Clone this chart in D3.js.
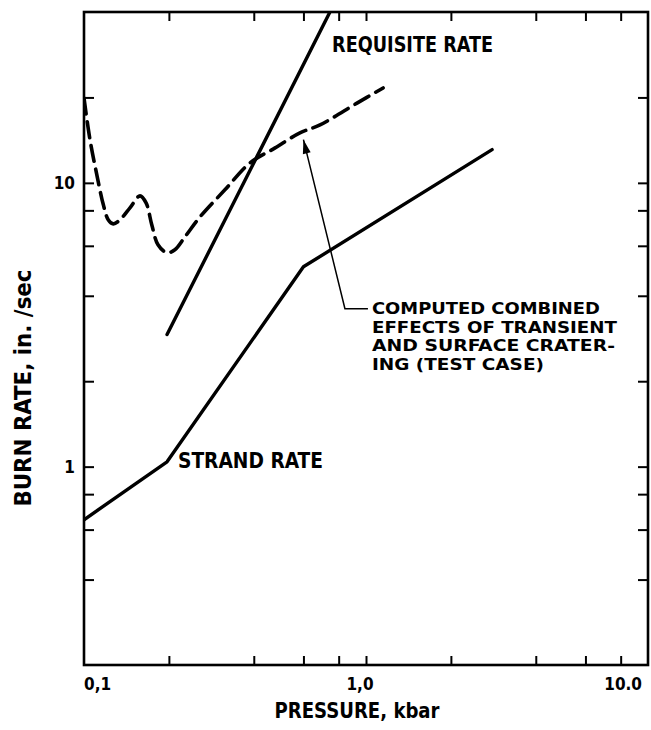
<!DOCTYPE html>
<html><head><meta charset="utf-8">
<script src="https://cdn.jsdelivr.net/npm/d3@7/dist/d3.min.js"></script>
<style>
body{margin:0;background:#fff}
text{font-family:"DejaVu Sans Condensed","DejaVu Sans","Liberation Sans Narrow",sans-serif;font-weight:bold;font-stretch:condensed;fill:#000}
</style>
</head><body>
<svg id="chart" width="651" height="730"></svg>
<script>
// ---- data ----
const xTicks = [0.2, 0.4, 0.6, 0.8, 1, 2, 4, 6, 8];
const yTicks = [0.4, 0.6, 0.8, 1, 2, 4, 6, 8, 10, 20];
const xTickValues = [0.1, 1, 10];
const xTickText = ["0,1", "1,0", "10.0"];
const yTickValues = [1, 10];
const yTickText = ["1", "10"];

const strandP = [0.1, 0.197, 0.6, 2.8];
const strandR = [0.65, 1.04, 5.06, 13.1];

const requisiteP = [0.197, 0.745];
const requisiteR = [2.92, 40];

const combinedP = [0.100, 0.105, 0.111, 0.117, 0.122, 0.127, 0.134, 0.146, 0.158, 0.166, 0.174, 0.183, 0.197, 0.210, 0.228, 0.258, 0.316, 0.388, 0.476, 0.583, 0.687, 0.929, 1.15];
const combinedR = [19.9, 14.2, 10.7, 8.4, 7.4, 7.17, 7.4, 8.2, 9.0, 8.5, 7.1, 6.05, 5.67, 5.81, 6.45, 7.59, 9.45, 11.76, 13.28, 15.0, 16.0, 19.1, 21.6];

const arrowP = [1.016, 0.842, 0.6];
const arrowR = [3.6, 3.6, 14.2];

const labelRequisite = {p: 0.758, r: 29.0, text: "REQUISITE RATE"};
const labelStrand = {p: 0.2154, r: 0.99, text: "STRAND RATE"};
const labelCombined = {p: 1.05, r: 3.44, lines: ["COMPUTED COMBINED", "EFFECTS OF TRANSIENT", "AND SURFACE CRATER-", "ING (TEST CASE)"]};
const xTitle = "PRESSURE, kbar";
const yTitle = "BURN RATE, in. /sec";

// ---- layout ----
const L = 84, R = 648, T = 12, B = 665;
const svg = d3.select("#chart");
const x = d3.scaleLog().domain([0.1, 10]).range([L, R]);
const y = d3.scaleLog().domain([0.2, 40]).range([B, T]);

function fitText(sel, w) {
  sel.attr("textLength", w).attr("lengthAdjust", "spacingAndGlyphs");
}

// axes ticks (inward)
svg.append("g").attr("transform", `translate(0,${B})`)
  .call(d3.axisBottom(x).tickValues(xTicks).tickSize(-9).tickFormat(""))
  .call(g => g.select(".domain").remove());
svg.append("g").attr("transform", `translate(0,${T})`)
  .call(d3.axisTop(x).tickValues(xTicks).tickSize(-9).tickFormat(""))
  .call(g => g.select(".domain").remove());
svg.append("g").attr("transform", `translate(${L},0)`)
  .call(d3.axisLeft(y).tickValues(yTicks).tickSize(-10).tickFormat(""))
  .call(g => g.select(".domain").remove());
svg.append("g").attr("transform", `translate(${R},0)`)
  .call(d3.axisRight(y).tickValues(yTicks).tickSize(-10).tickFormat(""))
  .call(g => g.select(".domain").remove());
svg.selectAll(".tick line").attr("stroke", "#000").attr("stroke-width", 2);

// frame
svg.append("rect").attr("x", L).attr("y", T).attr("width", R - L).attr("height", B - T)
  .attr("fill", "none").attr("stroke", "#000").attr("stroke-width", 2.6);

// tick labels
const anchors = ["start", "middle", "end"];
const dxs = [0, -6, -6];
xTickValues.forEach((v, i) => {
  svg.append("text").attr("x", x(v) + dxs[i]).attr("y", B + 25)
    .attr("text-anchor", anchors[i]).style("font-size", "17px").text(xTickText[i]);
});
yTickValues.forEach((v, i) => {
  svg.append("text").attr("x", L - 9).attr("y", y(v)).attr("dy", "0.36em")
    .attr("text-anchor", "end").style("font-size", "17px").text(yTickText[i]);
});

// axis titles
svg.append("text").attr("x", 357).attr("y", 718).attr("text-anchor", "middle")
  .style("font-size", "21px").text(xTitle).call(fitText, 165);
svg.append("text").attr("transform", "translate(31,388) rotate(-90)").attr("text-anchor", "middle")
  .style("font-size", "23px").text(yTitle).call(fitText, 237);

// lines
const line = d3.line().x(d => x(d[0])).y(d => y(d[1]));
const clip = svg.append("clipPath").attr("id", "clip").append("rect")
  .attr("x", L).attr("y", T).attr("width", R - L).attr("height", B - T);
const plot = svg.append("g").attr("clip-path", "url(#clip)");

plot.append("path").datum(d3.zip(strandP, strandR)).attr("d", line)
  .attr("fill", "none").attr("stroke", "#000").attr("stroke-width", 3.4)
  .attr("stroke-linejoin", "round").attr("stroke-linecap", "round");
plot.append("path").datum(d3.zip(requisiteP, requisiteR)).attr("d", line)
  .attr("fill", "none").attr("stroke", "#000").attr("stroke-width", 3.4)
  .attr("stroke-linecap", "round");
plot.append("path").datum(d3.zip(combinedP, combinedR))
  .attr("d", line.curve(d3.curveCatmullRom.alpha(0.5)))
  .attr("fill", "none").attr("stroke", "#000").attr("stroke-width", 3.6)
  .attr("stroke-dasharray", "16,8").attr("stroke-linecap", "round");
line.curve(d3.curveLinear);

// annotation arrow
const ap = d3.zip(arrowP, arrowR);
svg.append("path").datum(ap).attr("d", line).attr("fill", "none")
  .attr("stroke", "#000").attr("stroke-width", 1.5);
{
  const tx = x(arrowP[2]), ty = y(arrowR[2]);
  const ex = x(arrowP[1]), ey = y(arrowR[1]);
  const ang = Math.atan2(ty - ey, tx - ex);
  const len = 14, hw = 4;
  const bx = tx - len * Math.cos(ang), by = ty - len * Math.sin(ang);
  const px = -Math.sin(ang) * hw, py = Math.cos(ang) * hw;
  svg.append("path").attr("d", `M${tx},${ty}L${bx + px},${by + py}L${bx - px},${by - py}Z`).attr("fill", "#000");
}

// labels
svg.append("text").attr("x", x(labelRequisite.p)).attr("y", y(labelRequisite.r))
  .style("font-size", "22px").text(labelRequisite.text).call(fitText, 161);
svg.append("text").attr("x", x(labelStrand.p)).attr("y", y(labelStrand.r))
  .style("font-size", "22px").text(labelStrand.text).call(fitText, 145);
const cw = [228, 245, 243, 172];
labelCombined.lines.forEach((t, i) => {
  svg.append("text").attr("x", x(labelCombined.p)).attr("y", y(labelCombined.r) + i * 18.5)
    .style("font-size", "15.8px").text(t).call(fitText, cw[i]);
});
</script>
</body></html>
